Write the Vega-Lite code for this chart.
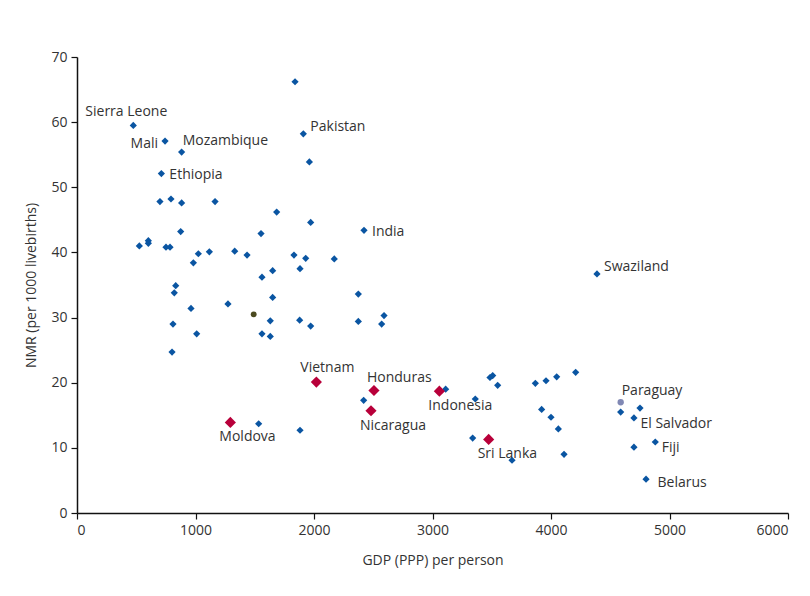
{
  "$schema": "https://vega.github.io/schema/vega-lite/v6.json",
  "width": 711,
  "height": 456,
  "autosize": {"type": "none"},
  "padding": {"left": 77, "top": 57, "right": 22, "bottom": 83},
  "background": "white",
  "config": {
    "view": {"stroke": null},
    "font": "Open Sans",
    "axis": {
      "grid": false,
      "domainColor": "#111111",
      "domainWidth": 1.5,
      "tickColor": "#111111",
      "tickWidth": 1.2,
      "tickSize": 6,
      "labelFont": "Open Sans",
      "labelFontSize": 14,
      "labelColor": "#333333",
      "titleFont": "Open Sans",
      "titleFontSize": 14,
      "titleFontWeight": "normal",
      "titleColor": "#333333"
    }
  },
  "data": {
    "values": [
      {"country": "", "gdp": 1840, "nmr": 66.2, "group": "other"},
      {"country": "Sierra Leone", "gdp": 475, "nmr": 59.5, "group": "other"},
      {"country": "Mali", "gdp": 743, "nmr": 57.1, "group": "other"},
      {"country": "Mozambique", "gdp": 883, "nmr": 55.4, "group": "other"},
      {"country": "Pakistan", "gdp": 1910, "nmr": 58.2, "group": "other"},
      {"country": "", "gdp": 1961, "nmr": 53.9, "group": "other"},
      {"country": "Ethiopia", "gdp": 712, "nmr": 52.1, "group": "other"},
      {"country": "", "gdp": 700, "nmr": 47.8, "group": "other"},
      {"country": "", "gdp": 793, "nmr": 48.2, "group": "other"},
      {"country": "", "gdp": 883, "nmr": 47.6, "group": "other"},
      {"country": "", "gdp": 1165, "nmr": 47.8, "group": "other"},
      {"country": "", "gdp": 1685, "nmr": 46.2, "group": "other"},
      {"country": "", "gdp": 1972, "nmr": 44.6, "group": "other"},
      {"country": "", "gdp": 875, "nmr": 43.2, "group": "other"},
      {"country": "", "gdp": 1553, "nmr": 42.9, "group": "other"},
      {"country": "India", "gdp": 2422, "nmr": 43.4, "group": "other"},
      {"country": "", "gdp": 526, "nmr": 41.0, "group": "other"},
      {"country": "", "gdp": 602, "nmr": 41.8, "group": "other"},
      {"country": "", "gdp": 602, "nmr": 41.4, "group": "other"},
      {"country": "", "gdp": 751, "nmr": 40.8, "group": "other"},
      {"country": "", "gdp": 785, "nmr": 40.8, "group": "other"},
      {"country": "", "gdp": 1024, "nmr": 39.8, "group": "other"},
      {"country": "", "gdp": 1117, "nmr": 40.1, "group": "other"},
      {"country": "", "gdp": 982, "nmr": 38.4, "group": "other"},
      {"country": "", "gdp": 1331, "nmr": 40.2, "group": "other"},
      {"country": "", "gdp": 1435, "nmr": 39.6, "group": "other"},
      {"country": "", "gdp": 1831, "nmr": 39.6, "group": "other"},
      {"country": "", "gdp": 1930, "nmr": 39.1, "group": "other"},
      {"country": "", "gdp": 1882, "nmr": 37.5, "group": "other"},
      {"country": "", "gdp": 2171, "nmr": 39.0, "group": "other"},
      {"country": "", "gdp": 1561, "nmr": 36.2, "group": "other"},
      {"country": "", "gdp": 1651, "nmr": 37.2, "group": "other"},
      {"country": "", "gdp": 833, "nmr": 34.9, "group": "other"},
      {"country": "", "gdp": 821, "nmr": 33.8, "group": "other"},
      {"country": "", "gdp": 1651, "nmr": 33.1, "group": "other"},
      {"country": "", "gdp": 2374, "nmr": 33.6, "group": "other"},
      {"country": "", "gdp": 962, "nmr": 31.4, "group": "other"},
      {"country": "", "gdp": 1274, "nmr": 32.1, "group": "other"},
      {"country": "", "gdp": 1491, "nmr": 30.5, "group": "olive"},
      {"country": "", "gdp": 810, "nmr": 29.0, "group": "other"},
      {"country": "", "gdp": 1631, "nmr": 29.5, "group": "other"},
      {"country": "", "gdp": 1879, "nmr": 29.6, "group": "other"},
      {"country": "", "gdp": 1972, "nmr": 28.7, "group": "other"},
      {"country": "", "gdp": 2374, "nmr": 29.4, "group": "other"},
      {"country": "", "gdp": 2591, "nmr": 30.3, "group": "other"},
      {"country": "", "gdp": 2571, "nmr": 29.0, "group": "other"},
      {"country": "", "gdp": 1010, "nmr": 27.5, "group": "other"},
      {"country": "", "gdp": 1561, "nmr": 27.5, "group": "other"},
      {"country": "", "gdp": 1631, "nmr": 27.1, "group": "other"},
      {"country": "", "gdp": 802, "nmr": 24.7, "group": "other"},
      {"country": "Swaziland", "gdp": 4388, "nmr": 36.7, "group": "other"},
      {"country": "Vietnam", "gdp": 2020, "nmr": 20.1, "group": "highlight"},
      {"country": "Honduras", "gdp": 2506, "nmr": 18.8, "group": "highlight"},
      {"country": "", "gdp": 2419, "nmr": 17.3, "group": "other"},
      {"country": "Nicaragua", "gdp": 2481, "nmr": 15.7, "group": "highlight"},
      {"country": "Moldova", "gdp": 1294, "nmr": 13.9, "group": "highlight"},
      {"country": "", "gdp": 1533, "nmr": 13.7, "group": "other"},
      {"country": "", "gdp": 1882, "nmr": 12.7, "group": "other"},
      {"country": "Indonesia", "gdp": 3058, "nmr": 18.7, "group": "highlight"},
      {"country": "", "gdp": 3111, "nmr": 19.0, "group": "other"},
      {"country": "", "gdp": 3361, "nmr": 17.5, "group": "other"},
      {"country": "", "gdp": 3339, "nmr": 11.5, "group": "other"},
      {"country": "Sri Lanka", "gdp": 3474, "nmr": 11.3, "group": "highlight"},
      {"country": "", "gdp": 3485, "nmr": 20.8, "group": "other"},
      {"country": "", "gdp": 3508, "nmr": 21.1, "group": "other"},
      {"country": "", "gdp": 3550, "nmr": 19.6, "group": "other"},
      {"country": "", "gdp": 3671, "nmr": 8.1, "group": "other"},
      {"country": "", "gdp": 3868, "nmr": 19.9, "group": "other"},
      {"country": "", "gdp": 3958, "nmr": 20.3, "group": "other"},
      {"country": "", "gdp": 4048, "nmr": 20.9, "group": "other"},
      {"country": "", "gdp": 4208, "nmr": 21.6, "group": "other"},
      {"country": "", "gdp": 3921, "nmr": 15.9, "group": "other"},
      {"country": "", "gdp": 4000, "nmr": 14.7, "group": "other"},
      {"country": "", "gdp": 4062, "nmr": 12.9, "group": "other"},
      {"country": "", "gdp": 4110, "nmr": 9.0, "group": "other"},
      {"country": "Paraguay", "gdp": 4588, "nmr": 17.0, "group": "paraguay"},
      {"country": "", "gdp": 4588, "nmr": 15.5, "group": "other"},
      {"country": "", "gdp": 4751, "nmr": 16.1, "group": "other"},
      {"country": "El Salvador", "gdp": 4700, "nmr": 14.6, "group": "other"},
      {"country": "", "gdp": 4700, "nmr": 10.1, "group": "other"},
      {"country": "Fiji", "gdp": 4880, "nmr": 10.9, "group": "other"},
      {"country": "Belarus", "gdp": 4802, "nmr": 5.2, "group": "other"}
    ]
  },
  "encoding": {
    "x": {
      "field": "gdp", "type": "quantitative",
      "scale": {"domain": [0, 6000], "nice": false, "zero": true},
      "axis": {"values": [0, 1000, 2000, 3000, 4000, 5000, 6000], "format": "d", "title": "GDP (PPP) per person", "titlePadding": 16, "labelPadding": 4}
    },
    "y": {
      "field": "nmr", "type": "quantitative",
      "scale": {"domain": [0, 70], "nice": false},
      "axis": {"values": [0, 10, 20, 30, 40, 50, 60, 70], "format": "d", "title": "NMR (per 1000 livebirths)", "titlePadding": 12, "labelPadding": 4}
    }
  },
  "layer": [
    {
      "transform": [{"filter": {"field": "group", "equal": "other"}}],
      "mark": {"type": "point", "shape": "diamond", "filled": true, "opacity": 1, "size": 52, "color": "#0a55a2"}
    },
    {
      "transform": [{"filter": {"field": "group", "equal": "olive"}}],
      "mark": {"type": "point", "shape": "circle", "filled": true, "opacity": 1, "size": 34, "color": "#4b4a20"}
    },
    {
      "transform": [{"filter": {"field": "group", "equal": "paraguay"}}],
      "mark": {"type": "point", "shape": "circle", "filled": true, "opacity": 1, "size": 40, "color": "#8088b4"}
    },
    {
      "transform": [{"filter": {"field": "group", "equal": "highlight"}}],
      "mark": {"type": "point", "shape": "diamond", "filled": true, "opacity": 1, "size": 125, "color": "#b8003a"}
    },
    {
      "transform": [{"filter": {"field": "country", "oneOf": ["Indonesia", "Nicaragua", "Moldova", "Sri Lanka"]}}],
      "mark": {"type": "text", "align": "left", "baseline": "middle", "dx": -11, "dy": 15, "fontSize": 14, "color": "#333333", "font": "Open Sans"},
      "encoding": {"text": {"field": "country"}}
    },
    {
      "transform": [{"filter": {"field": "country", "oneOf": ["Mozambique", "Paraguay"]}}],
      "mark": {"type": "text", "align": "left", "baseline": "middle", "dx": 1, "dy": -11, "fontSize": 14, "color": "#333333", "font": "Open Sans"},
      "encoding": {"text": {"field": "country"}}
    },
    {
      "transform": [{"filter": {"field": "country", "equal": "Vietnam"}}],
      "mark": {"type": "text", "align": "left", "baseline": "middle", "dx": -16, "dy": -14, "fontSize": 14, "color": "#333333", "font": "Open Sans"},
      "encoding": {"text": {"field": "country"}}
    },
    {
      "transform": [{"filter": {"field": "country", "equal": "Honduras"}}],
      "mark": {"type": "text", "align": "left", "baseline": "middle", "dx": -7, "dy": -13, "fontSize": 14, "color": "#333333", "font": "Open Sans"},
      "encoding": {"text": {"field": "country"}}
    },
    {
      "transform": [{"filter": {"field": "country", "oneOf": ["Pakistan", "Swaziland"]}}],
      "mark": {"type": "text", "align": "left", "baseline": "middle", "dx": 7, "dy": -6.5, "fontSize": 14, "color": "#333333", "font": "Open Sans"},
      "encoding": {"text": {"field": "country"}}
    },
    {
      "transform": [{"filter": {"field": "country", "oneOf": ["Ethiopia", "India"]}}],
      "mark": {"type": "text", "align": "left", "baseline": "middle", "dx": 8, "dy": 1.5, "fontSize": 14, "color": "#333333", "font": "Open Sans"},
      "encoding": {"text": {"field": "country"}}
    },
    {
      "transform": [{"filter": {"field": "country", "oneOf": ["El Salvador", "Fiji"]}}],
      "mark": {"type": "text", "align": "left", "baseline": "middle", "dx": 6.5, "dy": 6, "fontSize": 14, "color": "#333333", "font": "Open Sans"},
      "encoding": {"text": {"field": "country"}}
    },
    {
      "transform": [{"filter": {"field": "country", "equal": "Belarus"}}],
      "mark": {"type": "text", "align": "left", "baseline": "middle", "dx": 11.5, "dy": 3.5, "fontSize": 14, "color": "#333333", "font": "Open Sans"},
      "encoding": {"text": {"field": "country"}}
    },
    {
      "transform": [{"filter": {"field": "country", "equal": "Sierra Leone"}}],
      "mark": {"type": "text", "align": "center", "baseline": "middle", "dx": -7, "dy": -13, "fontSize": 14, "color": "#333333", "font": "Open Sans"},
      "encoding": {"text": {"field": "country"}}
    },
    {
      "transform": [{"filter": {"field": "country", "equal": "Mali"}}],
      "mark": {"type": "text", "align": "right", "baseline": "middle", "dx": -7, "dy": 3, "fontSize": 14, "color": "#333333", "font": "Open Sans"},
      "encoding": {"text": {"field": "country"}}
    }
  ]
}
